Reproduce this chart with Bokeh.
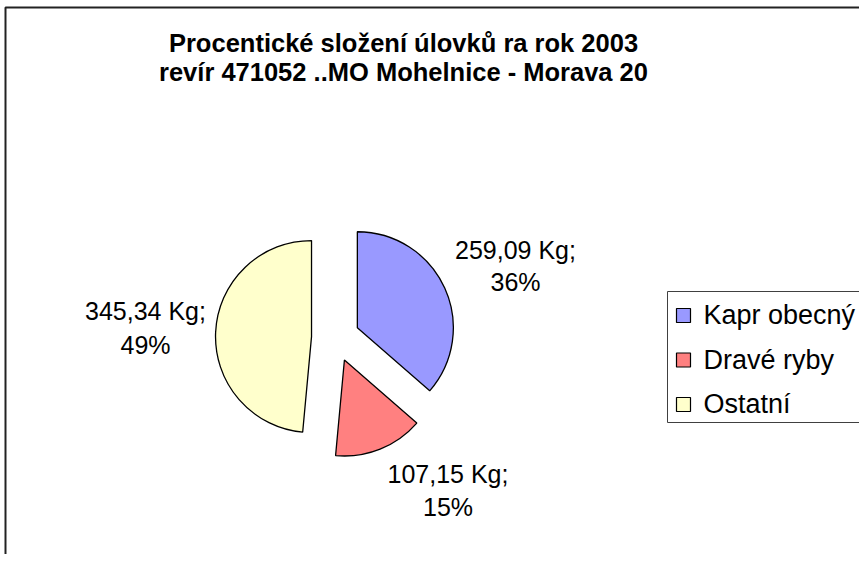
import math
from bokeh.plotting import figure
from bokeh.models import Range1d, ColumnDataSource
from bokeh.core.properties import value
from bokeh.embed import file_html
from bokeh.resources import INLINE

# ---- data ----
categories = ["Kapr obecný", "Dravé ryby", "Ostatní"]
weights_kg = [259.09, 107.15, 345.34]
colors = ["#9999FF", "#FF8080", "#FFFFCC"]
title_lines = ["Procentické složení úlovků ra rok 2003",
               "revír 471052 ..MO Mohelnice - Morava 20"]

total = sum(weights_kg)
kg_labels = [f"{w:.2f}".replace(".", ",") + " Kg;" for w in weights_kg]
pct_labels = [f"{round(100 * w / total)}%" for w in weights_kg]

# ---- layout (pixels, y measured downward and negated) ----
W, H = 859, 554
CX, CY = 335, 337.2      # pie centre
R = 96
EXPLODE = 24
FONT = value("Liberation Sans")
TXT_SHIFT = 9.5          # compensate svg baseline placement

def ty(v):
    return -(v - TXT_SHIFT)

p = figure(width=W, height=H, output_backend="svg", toolbar_location=None,
           x_range=Range1d(0, W), y_range=Range1d(-H, 0),
           x_axis_type=None, y_axis_type=None, min_border=0,
           background_fill_color="white", border_fill_color="white")
p.outline_line_color = None
p.grid.visible = False

# chart area border (top & left visible)
p.line(x=[5, 5, W + 10], y=[-(H + 10), -7, -7], line_color="#222222", line_width=2)

# pie wedges
xs, ys, starts, ends = [], [], [], []
cum = 0.0
for w in weights_kg:
    a0 = math.pi / 2 - 2 * math.pi * cum / total
    cum += w
    a1 = math.pi / 2 - 2 * math.pi * cum / total
    mid = (a0 + a1) / 2
    xs.append(CX + EXPLODE * math.cos(mid))
    ys.append(-CY + EXPLODE * math.sin(mid))
    starts.append(a1)
    ends.append(a0)
src = ColumnDataSource(dict(x=xs, y=ys, start=starts, end=ends, color=colors, cat=categories))
p.wedge(x="x", y="y", radius=R, start_angle="start", end_angle="end",
        fill_color="color", line_color="black", line_width=1.3, source=src)

# data labels
lab_x = [515, 447.5, 145]
lab_y1 = [259, 483, 320]
lab_y2 = [291, 516, 354]
p.text(x=lab_x, y=[ty(v) for v in lab_y1], text=kg_labels, text_font=FONT, text_font_size="25px",
       text_align="center", text_baseline="alphabetic", text_color="black")
p.text(x=lab_x, y=[ty(v) for v in lab_y2], text=pct_labels, text_font=FONT, text_font_size="25px",
       text_align="center", text_baseline="alphabetic", text_color="black")

# title
p.text(x=[403, 403], y=[ty(51.5), ty(81)], text=title_lines, text_font=FONT, text_font_size="25.5px",
       text_font_style="bold", text_align="center", text_baseline="alphabetic", text_color="black")

# legend box
p.quad(left=[667], right=[W + 30], top=[-291], bottom=[-422],
       fill_color="white", line_color="#404040", line_width=1)
leg_y = [315, 359.5, 404]
p.rect(x=[683] * 3, y=[-v for v in leg_y], width=14, height=14,
       fill_color=colors, line_color="black", line_width=1.2)
p.text(x=[703] * 3, y=[ty(v + 9) for v in leg_y], text=categories, text_font=FONT,
       text_font_size="27px", text_align="left", text_baseline="alphabetic", text_color="black")

open("out.html", "w").write(file_html(p, INLINE))
